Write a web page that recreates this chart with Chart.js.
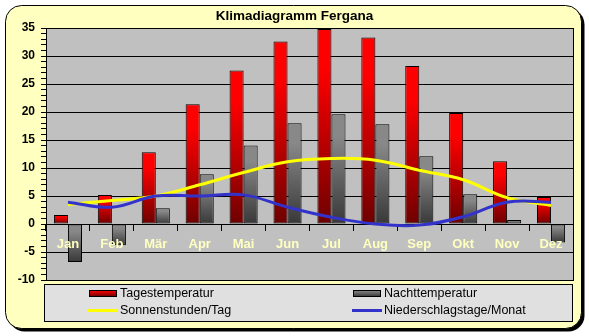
<!DOCTYPE html>
<html>
<head>
<meta charset="utf-8">
<script src="https://cdn.jsdelivr.net/npm/chart.js@4"></script>
<style>
  body { margin: 0; background: #fff; }
  #wrap { width: 589px; height: 336px; }
</style>
</head>
<body>
<div id="wrap"><canvas id="klima"></canvas></div>
<script>
const months = ['Jan', 'Feb', 'Mär', 'Apr', 'Mai', 'Jun', 'Jul', 'Aug', 'Sep', 'Okt', 'Nov', 'Dez'];
const tagesTemp = [1.6, 5.2, 12.8, 21.4, 27.4, 32.6, 34.8, 33.3, 28.2, 19.8, 11.2, 4.8];
const nachtTemp = [-6.8, -3.8, 2.8, 8.9, 14.0, 18.0, 19.6, 17.8, 12.1, 5.3, 0.7, -3.3];
const sonne = [3.5, 4.2, 5.0, 7.0, 9.2, 11.1, 11.7, 11.4, 9.6, 7.9, 4.7, 3.3];
const regenTage = [3.9, 3.0, 5.0, 5.0, 5.2, 3.0, 1.2, 0.0, -0.2, 1.3, 3.9, 3.9];
const yMin = -10, yMax = 35;
const title = 'Klimadiagramm Fergana';

// vertical gradient per bar, light at top, dark at bottom
function barGradient(c1, c2) {
  return (ctx) => {
    const chart = ctx.chart;
    if (!chart.chartArea || ctx.raw === undefined) return c1;
    const y = chart.scales.y;
    const p0 = y.getPixelForValue(0), p1 = y.getPixelForValue(ctx.raw);
    const top = Math.min(p0, p1), bot = Math.max(p0, p1);
    if (bot - top < 1) return c1;
    const g = chart.ctx.createLinearGradient(0, top, 0, bot);
    g.addColorStop(0, c1);
    g.addColorStop(0.2, c1);
    g.addColorStop(1, c2);
    return g;
  };
}

function roundRect(c, x, y, w, h, r) {
  c.beginPath();
  c.moveTo(x + r, y);
  c.arcTo(x + w, y, x + w, y + h, r);
  c.arcTo(x + w, y + h, x, y + h, r);
  c.arcTo(x, y + h, x, y, r);
  c.arcTo(x, y, x + w, y, r);
  c.closePath();
}

const frame = {
  id: 'frame',
  beforeDraw(chart) {
    const c = chart.ctx, a = chart.chartArea;
    c.save();
    c.fillStyle = '#fff';
    c.fillRect(0, 0, chart.width, chart.height);
    c.fillStyle = '#000';
    roundRect(c, 8.5, 8.5, 576, 323, 16);
    c.fill();
    c.fillStyle = '#ffffc0';
    c.strokeStyle = '#000';
    c.lineWidth = 1;
    roundRect(c, 5.5, 5.5, 576, 323, 16);
    c.fill();
    c.stroke();
    c.fillStyle = '#c0c0c0';
    c.fillRect(a.left, a.top, a.right - a.left, a.bottom - a.top);
    c.restore();
  },
  afterDraw(chart) {
    const c = chart.ctx, a = chart.chartArea;
    c.save();
    c.strokeStyle = '#000';
    c.lineWidth = 1;
    c.strokeRect(Math.round(a.left) + 0.5, Math.round(a.top) + 0.5, Math.round(a.right - a.left), Math.round(a.bottom - a.top));

    // title
    c.fillStyle = '#000';
    c.font = 'bold 13.5px "Liberation Sans", Arial, sans-serif';
    c.textAlign = 'center';
    c.textBaseline = 'middle';
    c.fillText(title, 294.5, 16);

    // legend box
    c.fillStyle = '#e0e0e0';
    c.fillRect(44.5, 284.5, 528, 37);
    c.strokeRect(44.5, 284.5, 528, 37);
    c.font = '12.5px "Liberation Sans", Arial, sans-serif';
    c.textAlign = 'left';
    const cols = [88, 352];
    const rows = [293.5, 310.5];
    chart.data.datasets.forEach((ds, i) => {
      const x = cols[i % 2], y = rows[Math.floor(i / 2)];
      if (ds.type === 'line') {
        c.strokeStyle = ds.borderColor;
        c.lineWidth = 3;
        c.beginPath();
        c.moveTo(x, y);
        c.lineTo(x + 30, y);
        c.stroke();
      } else {
        const g = c.createLinearGradient(0, y - 3, 0, y + 3);
        g.addColorStop(0, ds.legendColors[0]);
        g.addColorStop(1, ds.legendColors[1]);
        c.fillStyle = g;
        c.fillRect(x + 1.5, y - 3, 27, 6);
        c.strokeStyle = '#000';
        c.lineWidth = 1;
        c.strokeRect(x + 1.5, y - 3, 27, 6);
      }
      c.fillStyle = '#000';
      c.fillText(ds.label, x + 32, y);
    });
    c.restore();
  }
};

new Chart(document.getElementById('klima'), {
  data: {
    labels: months,
    datasets: [
      {
        type: 'bar',
        label: 'Tagestemperatur',
        data: tagesTemp,
        backgroundColor: barGradient('#ff0000', '#6e0000'),
        legendColors: ['#ff0000', '#6e0000'],
        borderColor: '#000',
        borderWidth: 1,
        borderSkipped: false,
        categoryPercentage: 0.64,
        barPercentage: 1,
        order: 3
      },
      {
        type: 'bar',
        label: 'Nachttemperatur',
        data: nachtTemp,
        backgroundColor: barGradient('#888888', '#383838'),
        legendColors: ['#888888', '#383838'],
        borderColor: '#000',
        borderWidth: 1,
        borderSkipped: false,
        categoryPercentage: 0.64,
        barPercentage: 1,
        order: 3
      },
      {
        type: 'line',
        label: 'Sonnenstunden/Tag',
        data: sonne,
        borderColor: '#ffff00',
        borderWidth: 3,
        pointRadius: 0,
        tension: 0.4,
        fill: false,
        order: 2
      },
      {
        type: 'line',
        label: 'Niederschlagstage/Monat',
        data: regenTage,
        borderColor: '#3333cc',
        borderWidth: 3,
        pointRadius: 0,
        tension: 0.4,
        fill: false,
        order: 1
      }
    ]
  },
  options: {
    responsive: true,
    maintainAspectRatio: false,
    animation: false,
    layout: { padding: { left: 6, right: 16, top: 28, bottom: 56 } },
    scales: {
      x: {
        type: 'category',
        offset: true,
        position: { y: 0 },
        afterFit: (s) => { s.height = 0; },
        grid: { drawOnChartArea: false, offset: true, color: '#000', tickLength: 6 },
        border: { color: '#000' },
        ticks: {
          z: 1,
          color: '#ffffc0',
          padding: 7,
          maxRotation: 0,
          font: { family: '"Liberation Sans", Arial, sans-serif', size: 13, weight: 'bold' }
        }
      },
      y: {
        min: yMin,
        max: yMax,
        afterFit: (s) => { s.width = 40; },
        border: { color: '#000' },
        grid: {
          color: (ctx) => (ctx.tick && ctx.tick.value % 5 === 0 ? '#000' : 'rgba(0,0,0,0)'),
          tickColor: '#000',
          tickLength: 5
        },
        ticks: {
          stepSize: 1,
          autoSkip: false,
          padding: 6,
          color: '#000',
          font: { family: '"Liberation Sans", Arial, sans-serif', size: 12, weight: 'bold' },
          callback: (v) => (v % 5 === 0 ? v : '')
        }
      }
    },
    plugins: {
      legend: { display: false },
      tooltip: { enabled: false }
    }
  },
  plugins: [frame]
});
</script>
</body>
</html>
